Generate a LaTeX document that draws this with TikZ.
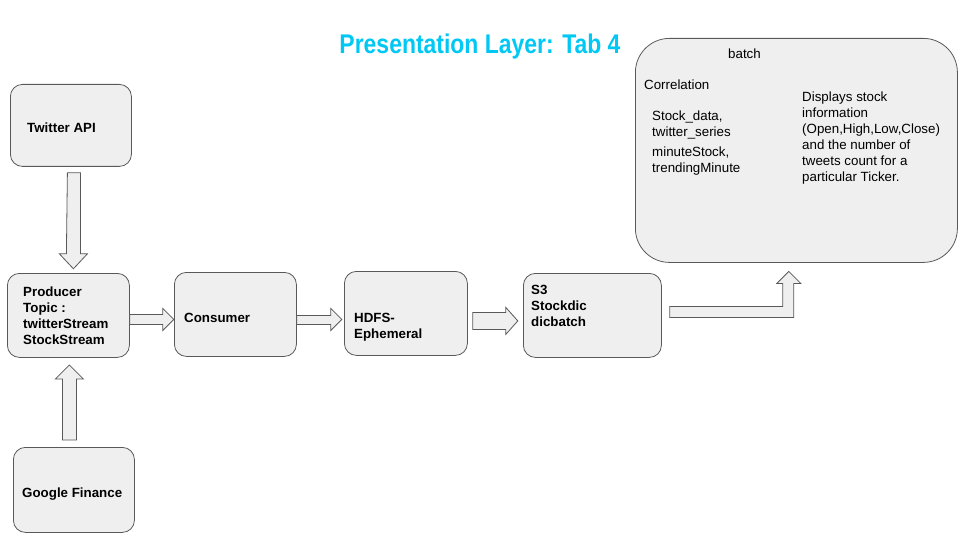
\documentclass[tikz,border=0pt]{standalone}
\usepackage{fontspec}
\setmainfont{Liberation Sans}
\usetikzlibrary{calc}
\definecolor{boxfill}{HTML}{EFEFEF}
\definecolor{boxline}{HTML}{595959}
\definecolor{titlecyan}{HTML}{00C8F5}

\begin{document}
\begin{tikzpicture}[x=1pt,y=-1pt,font=\fontsize{13.33}{16}\selectfont]
    \tikzstyle{box}=[draw=boxline, fill=boxfill, line width=0.8pt, rounded corners=12pt, anchor=north west, inner sep=0pt]
    \tikzstyle{txt}=[anchor=base west, inner sep=0pt, align=left]
    \tikzstyle{boldtxt}=[txt, font=\fontsize{13.33}{16}\selectfont\bfseries]
    \tikzstyle{bigarrow}=[draw=boxline, fill=boxfill, line width=0.8pt]
    \useasboundingbox (0,0) rectangle (960,540);
    \node[anchor=base, text=titlecyan, font=\fontsize{27}{30}\selectfont\bfseries] (title) at (480,54) {\scalebox{0.85}[1]{Presentation Layer: Tab 4}};
    \node[box, minimum width=121pt, minimum height=82pt] (tw) at (10,84) {};
    \node[box, minimum width=122pt, minimum height=84pt] (prod) at (7,273) {};
    \node[box, minimum width=122pt, minimum height=84pt] (cons) at (174,272) {};
    \node[box, minimum width=123pt, minimum height=84pt] (hdfs) at (344,271) {};
    \node[box, minimum width=138pt, minimum height=84pt] (s3) at (523,273) {};
    \node[box, minimum width=121pt, minimum height=85pt] (gf) at (13,447) {};
    \node[box, rounded corners=34pt, minimum width=322pt, minimum height=224pt] (batch) at (635,38) {};
    % texts, placed at the baseline of their last line
    \node[boldtxt] (twl) at (27,133) {Twitter API};
    \node[boldtxt] (prodl) at (23,344) {Producer\\Topic :\\twitterStream\\StockStream};
    \node[boldtxt] (consl) at (184,322) {Consumer};
    \node[boldtxt] (hdfsl) at (354,338) {HDFS-\\Ephemeral};
    \node[boldtxt] (s3l) at (531,326) {S3\\Stockdic\\dicbatch};
    \node[boldtxt] (gfl) at (22,497) {Google Finance};
    \node[txt] (batchl) at (728,59) {batch};
    \node[txt] (corr) at (644,90) {Correlation};
    \node[txt] (series) at (652,136.5) {Stock\_data,\\twitter\_series};
    \node[txt] (minute) at (652,172.5) {minuteStock,\\trendingMinute};
    \node[txt] (disp) at (802,181.5) {Displays stock\\information\\(Open,High,Low,Close)\\and the number of\\tweets count for a\\particular Ticker.};
    % block arrows between the boxes
    \draw[bigarrow] ($(tw.south)+(-3.5,6)$) -- ++(13,0) -- ++(0,81) -- ++(7,0) -- ++(-14,15) -- ++(-14,-15) -- ++(7,0) -- cycle;
    \draw[bigarrow] ($(gf.north)+(-11.5,-7)$) -- ++(14,0) -- ++(0,-61) -- ++(7,0) -- ++(-14,-14) -- ++(-14,14) -- ++(7,0) -- cycle;
    \draw[bigarrow] ($(prod.east)+(0,-1)$) -- ++(33,0) -- ++(0,-6) -- ++(11,11) -- ++(-11,11) -- ++(0,-6) -- ++(-33,0) -- cycle;
    \draw[bigarrow] ($(cons.east)+(0,1)$) -- ++(34,0) -- ++(0,-7) -- ++(11,11) -- ++(-11,11) -- ++(0,-6) -- ++(-34,0) -- cycle;
    \draw[bigarrow] ($(hdfs.east)+(5,-1)$) -- ++(33,0) -- ++(0,-5) -- ++(12,13.5) -- ++(-12,13.5) -- ++(0,-5) -- ++(-33,0) -- cycle;
    \draw[bigarrow] ($(s3.east)+(8,-9)$) -- ++(113,0) -- ++(0,-23) -- ++(-6,0) -- ++(12,-12) -- ++(12,12) -- ++(-7,0) -- ++(0,34) -- ++(-124,0) -- cycle;
\end{tikzpicture}
\end{document}
